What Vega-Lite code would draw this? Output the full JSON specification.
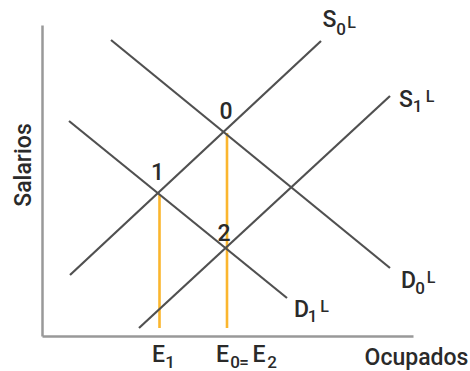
{
  "$schema": "https://vega.github.io/schema/vega-lite/v6.json",
  "width": 371,
  "height": 311,
  "autosize": {"type": "none"},
  "padding": {"left": 42, "top": 25, "right": 57, "bottom": 35},
  "background": "white",
  "config": {"view": {"stroke": null}, "text": {"font": "Roboto", "color": "#2a2a2a", "fontWeight": 500}},
  "datasets": {
    "curves": [
      {"curve": "S0", "x": 28, "y": 61}, {"curve": "S0", "x": 279, "y": 295},
      {"curve": "D0", "x": 69, "y": 296}, {"curve": "D0", "x": 348, "y": 68},
      {"curve": "D1", "x": 27, "y": 215}, {"curve": "D1", "x": 245, "y": 38},
      {"curve": "S1", "x": 97, "y": 8}, {"curve": "S1", "x": 348, "y": 240}
    ],
    "guides": [
      {"name": "E1", "x": 117.5, "y0": 8, "y1": 141},
      {"name": "E0", "x": 185, "y0": 8, "y1": 203}
    ],
    "base": [
      {"t": "S", "x": 287.5, "y": 309},
      {"t": "S", "x": 364, "y": 229},
      {"t": "D", "x": 366.5, "y": 48},
      {"t": "D", "x": 259.5, "y": 19},
      {"t": "E", "x": 116.5, "y": -26},
      {"t": "E", "x": 180.5, "y": -26},
      {"t": "E", "x": 217, "y": -26},
      {"t": "0", "x": 184, "y": 217},
      {"t": "1", "x": 115.5, "y": 156},
      {"t": "2", "x": 182, "y": 95},
      {"t": "Ocupados", "x": 374.5, "y": -29}
    ],
    "sub": [
      {"t": "0", "x": 299, "y": 301},
      {"t": "1", "x": 375.5, "y": 224},
      {"t": "0", "x": 378, "y": 42},
      {"t": "1", "x": 270.5, "y": 14},
      {"t": "1", "x": 128, "y": -32},
      {"t": "0", "x": 193, "y": -32},
      {"t": "=", "x": 202, "y": -32},
      {"t": "2", "x": 230, "y": -32}
    ],
    "sup": [
      {"t": "L", "x": 309.5, "y": 308},
      {"t": "L", "x": 388, "y": 234},
      {"t": "L", "x": 389, "y": 53},
      {"t": "L", "x": 282.5, "y": 24}
    ],
    "ytitle": [{"t": "Salarios", "x": -11, "y": 171}]
  },
  "encoding": {
    "x": {"field": "x", "type": "quantitative", "scale": {"domain": [0, 371], "nice": false, "zero": false},
          "axis": {"labels": false, "ticks": false, "grid": false, "title": null, "domainColor": "#999999", "domainWidth": 2.5}},
    "y": {"field": "y", "type": "quantitative", "scale": {"domain": [0, 311], "nice": false, "zero": false},
          "axis": {"labels": false, "ticks": false, "grid": false, "title": null, "domainColor": "#999999", "domainWidth": 2.5}}
  },
  "layer": [
    {
      "data": {"name": "guides"},
      "mark": {"type": "rule", "color": "#FBB62E", "strokeWidth": 2.6},
      "encoding": {"y": {"field": "y0", "type": "quantitative"}, "y2": {"field": "y1"}}
    },
    {
      "data": {"name": "curves"},
      "mark": {"type": "line", "color": "#505050", "strokeWidth": 2.2},
      "encoding": {"detail": {"field": "curve"}}
    },
    {
      "data": {"name": "base"},
      "mark": {"type": "text", "fontSize": 23, "baseline": "alphabetic", "align": "center"},
      "encoding": {"text": {"field": "t"}}
    },
    {
      "data": {"name": "sub"},
      "mark": {"type": "text", "fontSize": 17, "baseline": "alphabetic", "align": "center"},
      "encoding": {"text": {"field": "t"}}
    },
    {
      "data": {"name": "sup"},
      "mark": {"type": "text", "fontSize": 16, "baseline": "alphabetic", "align": "center"},
      "encoding": {"text": {"field": "t"}}
    },
    {
      "data": {"name": "ytitle"},
      "mark": {"type": "text", "fontSize": 23, "baseline": "alphabetic", "align": "center", "angle": 270},
      "encoding": {"text": {"field": "t"}}
    }
  ]
}
